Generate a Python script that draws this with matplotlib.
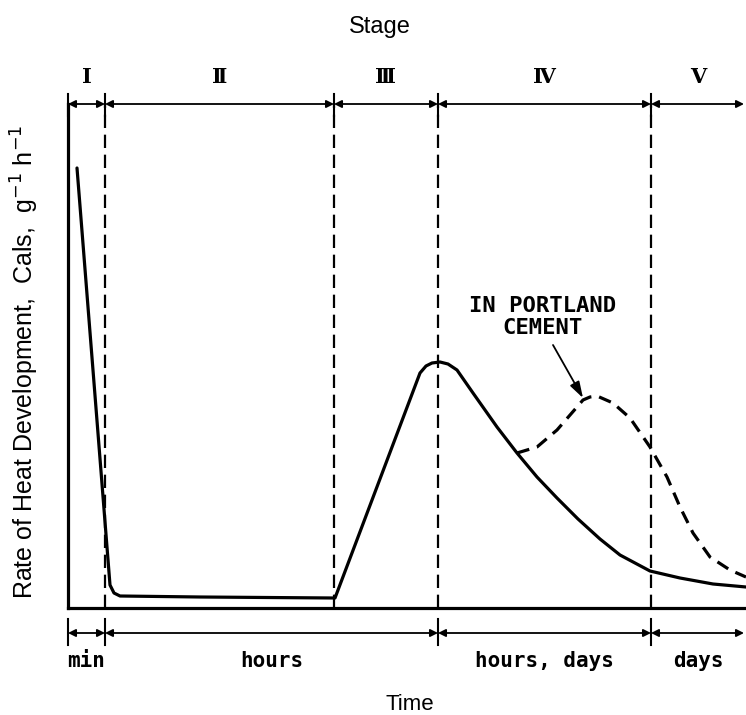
import matplotlib
matplotlib.use("Agg")
import matplotlib.pyplot as plt

# Limites dos estagios (unidades arbitrarias de tempo)
estagios_lim = [0, 37, 266, 370, 583, 678]
estagios_txt = ["Ⅰ", "Ⅱ", "Ⅲ", "Ⅳ", "Ⅴ"]

# Escala de tempo na parte de baixo
tempo_lim = [0, 37, 370, 583, 678]
tempo_txt = ["min", "hours", "hours, days", "days"]

# Curva principal (C3S / alita)
curva_x = [9, 42, 46, 52, 132, 267, 352, 358, 364, 372, 380, 389, 405, 429, 449, 469,
           489, 510, 532, 552, 582, 612, 645, 678]
curva_y = [440, 23, 15, 12, 11, 10, 235, 242, 245, 246, 244, 238, 215, 181, 155, 131,
           110, 89, 69, 53, 37, 30, 24, 21]

# Curva tracejada (cimento Portland)
port_x = [449, 469, 489, 509, 515, 522, 529, 545, 562, 582, 599, 612, 625, 642, 662, 678]
port_y = [155, 161, 178, 201, 208, 211, 212, 205, 190, 161, 131, 101, 75, 51, 38, 31]

fig = plt.figure(figsize=(7.46, 7.15), dpi=100)
ax = fig.add_axes([68 / 746, 107 / 715, 678 / 746, 504 / 715])
ax.set_xlim(0, 678)
ax.set_ylim(0, 504)
for s in ["top", "right"]:
    ax.spines[s].set_visible(False)
for s in ["left", "bottom"]:
    ax.spines[s].set_linewidth(2.3)
ax.set_xticks([])
ax.set_yticks([])

# linhas verticais tracejadas
for xb in estagios_lim[1:-1]:
    ax.plot([xb, xb], [0, 504], color="black", lw=1.6, ls=(0, (6, 3)), clip_on=False)

# curvas
ax.plot(curva_x, curva_y, color="black", lw=2.3, solid_capstyle="round", solid_joinstyle="round")
ax.plot(port_x, port_y, color="black", lw=2.3, ls=(0, (4, 2.5)))

# setas dos estagios (em cima)
for i in range(len(estagios_txt)):
    a, b = estagios_lim[i], estagios_lim[i + 1]
    if b == 678:
        b = 676
    ax.annotate("", xy=(b, 504), xytext=(a, 504), annotation_clip=False,
                arrowprops=dict(arrowstyle="<|-|>", color="black", lw=1.3,
                                mutation_scale=11, shrinkA=0, shrinkB=0))
    ax.text((estagios_lim[i] + estagios_lim[i + 1]) / 2, 531, estagios_txt[i],
            ha="center", va="center", fontsize=15, family="DejaVu Serif", fontweight="bold")
for xb in estagios_lim[:-1]:
    ax.plot([xb, xb], [492, 514], color="black", lw=1.5, clip_on=False)

# setas do tempo (embaixo)
for i in range(len(tempo_txt)):
    a, b = tempo_lim[i], tempo_lim[i + 1]
    if b == 678:
        b = 676
    ax.annotate("", xy=(b, -25), xytext=(a, -25), annotation_clip=False,
                arrowprops=dict(arrowstyle="<|-|>", color="black", lw=1.3,
                                mutation_scale=11, shrinkA=0, shrinkB=0))
    ax.text((tempo_lim[i] + tempo_lim[i + 1]) / 2, -53, tempo_txt[i],
            ha="center", va="center", fontsize=15, family="DejaVu Sans Mono",
            fontweight="bold")
for xb in tempo_lim[:-1]:
    ax.plot([xb, xb], [-11, -37], color="black", lw=1.5, clip_on=False)

# anotacao cimento Portland
ax.text(475, 291, "IN PORTLAND\nCEMENT", ha="center", va="center", fontsize=16,
        family="DejaVu Sans Mono", fontweight="bold", linespacing=1.12)
ax.annotate("", xy=(515, 210), xytext=(485, 263),
            arrowprops=dict(arrowstyle="-|>,head_length=0.7,head_width=0.22", color="black",
                            lw=1.3, mutation_scale=14, shrinkA=0, shrinkB=0))

# titulos
ax.text(312, 581, "Stage", ha="center", va="center", fontsize=17, family="Liberation Sans")
ax.text(342, -97, "Time", ha="center", va="center", fontsize=16, family="Liberation Sans")
ax.text(-43, 246, "Rate of Heat Development,  Cals,  g$^{-1}$ h$^{-1}$", rotation=90,
        ha="center", va="center", fontsize=18, family="Liberation Sans")

fig.savefig("out.png", dpi=100)
